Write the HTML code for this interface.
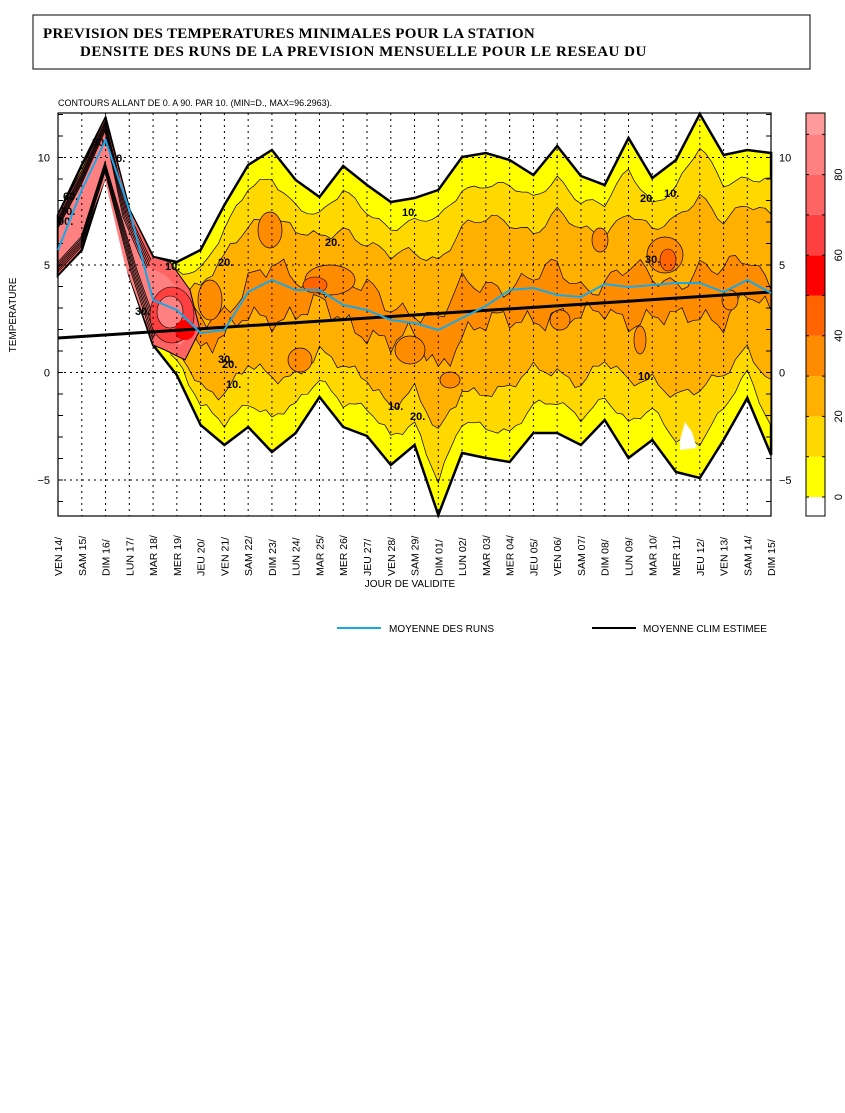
<!DOCTYPE html>
<html><head><meta charset="utf-8"><style>
body{margin:0;background:#fff;width:845px;height:1113px;overflow:hidden}
svg{display:block}
</style></head><body>
<svg id="s" width="845" height="1113" xmlns="http://www.w3.org/2000/svg" font-family="Liberation Sans, sans-serif">
<rect x="33" y="15" width="777" height="54" fill="#fff" stroke="#000" stroke-width="1"/>
<text x="43" y="38" style="font-family:'Liberation Serif',serif;font-weight:bold;font-size:15px;letter-spacing:0.3px">PREVISION DES TEMPERATURES MINIMALES POUR LA STATION</text>
<text x="80" y="56" style="font-family:'Liberation Serif',serif;font-weight:bold;font-size:15px;letter-spacing:0.5px">DENSITE DES RUNS DE LA PREVISION MENSUELLE POUR LE RESEAU DU</text>
<text x="58" y="106" font-size="9">CONTOURS ALLANT DE 0. A 90. PAR 10. (MIN=D., MAX=96.2963).</text>
<g id="bands"></g>
<g id="grid"></g>
<rect x="58" y="113" width="713" height="403" fill="none" stroke="#000" stroke-width="1.2"/>
<g id="lines"></g>
<g id="cb"></g>
<text x="410" y="587" font-size="10" text-anchor="middle">JOUR DE VALIDITE</text>
<line x1="337" y1="628" x2="381" y2="628" stroke="#1aa7e8" stroke-width="2"/>
<text x="389" y="632" font-size="10">MOYENNE DES RUNS</text>
<line x1="592" y1="628" x2="636" y2="628" stroke="#000" stroke-width="2"/>
<text x="643" y="632" font-size="10">MOYENNE CLIM ESTIMEE</text>
<text transform="translate(16,315) rotate(-90)" font-size="10" text-anchor="middle">TEMPERATURE</text>
</svg>
<script>
(function(){
var NS="http://www.w3.org/2000/svg";
function el(p,t,a,txt){var e=document.createElementNS(NS,t);for(var k in a)e.setAttribute(k,a[k]);if(txt!=null)e.textContent=txt;document.getElementById(p).appendChild(e);return e;}
var X=function(i){return 58+i*23.77};
var U=[215,165,118,210,257,262,250,205,165,150,180,197,166,185,202,198,190,157,153,160,175,146,176,185,138,178,160,114,155,150,153];
var L=[275,250,175,275,345,375,425,445,427,452,433,397,427,436,465,445,515,453,458,462,433,433,445,420,458,440,472,478,440,398,455];
var B=[250,190,140,210,300,310,333,330,292,280,290,290,305,310,320,323,330,318,306,290,288,295,297,284,287,285,283,283,292,280,293];
function poly(tp,bt){var s="M";for(var i=0;i<tp.length;i++)s+=tp[i][0].toFixed(1)+","+tp[i][1].toFixed(1)+" L";for(var i=bt.length-1;i>=0;i--)s+=bt[i][0].toFixed(1)+","+bt[i][1].toFixed(1)+" L";return s.slice(0,-2)+"Z";}
function noise(x,k){return Math.sin(x*0.21+k)*3+Math.sin(x*0.07+2*k)*3+Math.sin(x*0.53+k*3)*1.5;}
var tp=[],bt=[];
for(var i=0;i<31;i++){tp.push([X(i),U[i]]);bt.push([X(i),L[i]]);}
el("bands","path",{d:poly(tp,bt),fill:"#ffff00",stroke:"#000","stroke-width":"2.5"});
var cols=["#ffd800","#ffb000","#ff8c00"],fr=[0.8,0.55,0.14],amp=[1,1.4,2.6];
for(var k=0;k<3;k++){var t=[],b=[];
 for(var j=0;j<=120;j++){var f=j/4;var i=Math.floor(f);if(i>=30)i=29;var r=f-i;
  if(f<4.6)continue;
  var u=U[i]*(1-r)+U[i+1]*r,l=L[i]*(1-r)+L[i+1]*r,c=B[i]*(1-r)+B[i+1]*r;
  var cx=(c+(u+l)/2)/2; var x=X(f);
  t.push([x,cx-(cx-u)*fr[k]+noise(x,k)*amp[k]]);b.push([x,cx+(l-cx)*fr[k]+noise(x,k+5)*amp[k]]);}
 el("bands","path",{d:poly(t,b),fill:cols[k],stroke:"#000","stroke-width":"0.7"});}
[[270,230,12,18],[330,280,25,15],[410,350,15,14],[560,320,10,10],[665,255,18,18],[640,340,6,14],[730,300,8,10],[450,380,10,8],[300,360,12,12],[210,300,12,20],[600,240,8,12]].forEach(function(b){el("bands","ellipse",{cx:b[0],cy:b[1],rx:b[2],ry:b[3],fill:"#ff8c00",stroke:"#000","stroke-width":"0.7"});});
el("bands","ellipse",{cx:668,cy:260,rx:8,ry:11,fill:"#ff6400",stroke:"#000","stroke-width":"0.6"});
el("bands","ellipse",{cx:315,cy:285,rx:12,ry:8,fill:"#ff6400",stroke:"#000","stroke-width":"0.6"});
el("bands","path",{d:"M58,215 L82,170 L105,118 L130,210 L153,257 L170,262 L190,290 L200,330 L185,360 L165,350 L153,345 L130,275 L105,175 L81,250 L58,275 Z",fill:"#ff6464",stroke:"#000","stroke-width":"1"});
el("bands","path",{d:"M58,228 L82,185 L105,135 L125,215 L145,265 L165,275 L190,300 L195,330 L180,345 L160,335 L145,320 L125,265 L105,180 L82,240 L58,262 Z",fill:"#ff8080"});
for(var q=0;q<6;q++){el("bands","path",{d:"M58,"+(218+q*2)+" L82,"+(173+q*2)+" L105,"+(121+q*2)+" L"+(128-q)+","+(212+q)+" L"+(151-q)+","+(260+q*2),fill:"none",stroke:"#000","stroke-width":"0.8"});
 el("bands","path",{d:"M58,"+(272-q*2)+" L81,"+(247-q*2)+" L105,"+(172-q*2)+" L"+(131+q)+","+(272-q)+" L"+(153+q)+","+(340-q*2),fill:"none",stroke:"#000","stroke-width":"0.8"});}
el("bands","ellipse",{cx:172,cy:315,rx:22,ry:28,fill:"#ff4040",stroke:"#000","stroke-width":"0.6"});
el("bands","ellipse",{cx:170,cy:312,rx:13,ry:16,fill:"#ff8080",stroke:"#000","stroke-width":"0.6"});
el("bands","ellipse",{cx:185,cy:330,rx:10,ry:10,fill:"#ff0000"});
el("bands","path",{d:"M680,440 L685,422 L692,432 L697,448 L680,450Z",fill:"#fff"});
[[92,146,"80."],[110,162,"10."],[63,200,"60."],[60,215,"70."],[58,225,"90."],[165,270,"10."],[135,315,"30."],[218,266,"20."],[325,246,"20."],[218,363,"30."],[222,368,"20."],[226,388,"10."],[402,216,"10."],[640,202,"20."],[664,197,"10."],[645,263,"30."],[638,380,"10."],[388,410,"10."],[410,420,"20."]].forEach(function(l){el("bands","text",{x:l[0],y:l[1],"font-size":"11","font-weight":"bold"},l[2]);});
for(var i=1;i<30;i++)el("grid","line",{x1:X(i),y1:113,x2:X(i),y2:516,stroke:"#000","stroke-width":"1","stroke-dasharray":"2,4"});
var yv=function(v){return 372.5-v*21.5};
[10,5,0,-5].forEach(function(v){el("grid","line",{x1:58,y1:yv(v),x2:771,y2:yv(v),stroke:"#000","stroke-width":"1","stroke-dasharray":"2,4"});
 el("grid","text",{x:50,y:yv(v)+4,"font-size":"11","text-anchor":"end"},v==-5?"\u22125":String(v));
 el("grid","text",{x:779,y:yv(v)+4,"font-size":"11"},v==-5?"\u22125":String(v));});
for(var v=-6;v<=12;v++){el("grid","line",{x1:58,y1:yv(v),x2:63,y2:yv(v),stroke:"#000"});el("grid","line",{x1:766,y1:yv(v),x2:771,y2:yv(v),stroke:"#000"});}
var days=["VEN 14/","SAM 15/","DIM 16/","LUN 17/","MAR 18/","MER 19/","JEU 20/","VEN 21/","SAM 22/","DIM 23/","LUN 24/","MAR 25/","MER 26/","JEU 27/","VEN 28/","SAM 29/","DIM 01/","LUN 02/","MAR 03/","MER 04/","JEU 05/","VEN 06/","SAM 07/","DIM 08/","LUN 09/","MAR 10/","MER 11/","JEU 12/","VEN 13/","SAM 14/","DIM 15/"];
days.forEach(function(d,i){el("grid","text",{transform:"translate("+(X(i)+4)+",576) rotate(-90)","font-size":"10.5"},d);});
el("lines","line",{x1:58,y1:338,x2:771,y2:292,stroke:"#000","stroke-width":"3"});
var s="";for(var i=0;i<31;i++)s+=(i?"L":"M")+X(i)+","+B[i];
el("lines","path",{d:s,fill:"none",stroke:"#1aa7e8","stroke-width":"2"});
var cc=["#ffff00","#ffd800","#ffb000","#ff8c00","#ff6400","#ff0000","#ff4040","#ff6464","#ff8080","#ff9a9a"];
el("cb","rect",{x:806,y:497,width:19,height:19,fill:"#fff"});
for(var k=0;k<10;k++){var y1=497-k*40.3,y0=(k==9)?113:y1-40.3;el("cb","rect",{x:806,y:y0,width:19,height:y1-y0,fill:cc[k]});
 el("cb","line",{x1:806,y1:y1,x2:809,y2:y1,stroke:"#000"});el("cb","line",{x1:822,y1:y1,x2:825,y2:y1,stroke:"#000"});}
el("cb","rect",{x:806,y:113,width:19,height:403,fill:"none",stroke:"#000"});
[0,20,40,60,80].forEach(function(v){var y=497-v/10*40.3;el("cb","text",{transform:"translate(842,"+y+") rotate(-90)","font-size":"11","text-anchor":"middle"},String(v));});
})();
</script>
</body></html>
